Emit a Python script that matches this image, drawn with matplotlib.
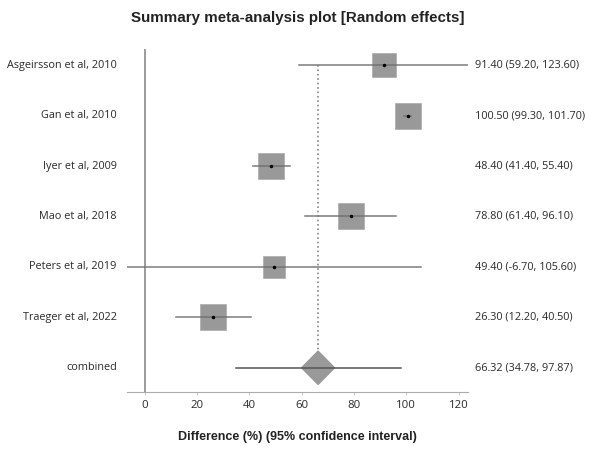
import matplotlib
matplotlib.use("Agg")
import matplotlib.pyplot as plt
from matplotlib.patches import Polygon

studies = ["Asgeirsson et al, 2010", "Gan et al, 2010", "Iyer et al, 2009",
           "Mao et al, 2018", "Peters et al, 2019", "Traeger et al, 2022"]
estimates = [91.40, 100.50, 48.40, 78.80, 49.40, 26.30]
lower = [59.20, 99.30, 41.40, 61.40, -6.70, 12.20]
upper = [123.60, 101.70, 55.40, 96.10, 105.60, 40.50]
weights = [0.92, 1.0, 1.0, 1.0, 0.81, 1.0]
combined_label = "combined"
combined_est = 66.32
combined_lo = 34.78
combined_hi = 97.87
xticks = [0, 20, 40, 60, 80, 100, 120]

W, H = 596, 449
fig = plt.figure(figsize=(W / 100, H / 100), dpi=100)
ax = fig.add_axes([127 / W, 1 - 392 / H, (468 - 127) / W, (392 - 49) / H])

n = len(studies)
ys = list(range(n + 1, 1, -1))
ycomb = 1
ax.set_xlim(-6.7, 123.6)
ax.set_ylim(0.52, n + 1.32)

linec = "#6e6e6e"
boxc = "#999999"
lab_font = "Open Sans"

ax.axvline(0, color="#8a8a8a", lw=1.2, zorder=1)
ax.plot([combined_est, combined_est], [ys[0], ycomb + 0.33], ls=":", color="#888888", lw=1.2, zorder=1)

for y, e, lo, hi, w in zip(ys, estimates, lower, upper, weights):
    ax.plot([e], [y], marker="s", ms=19.0 * w, color=boxc, mec="#aaaaaa", mew=0.5, zorder=2)
    ax.plot([lo, hi], [y, y], color=linec, lw=1.1, alpha=0.9, zorder=3)
    ax.plot([e], [y], marker="o", ms=1.5, color="black", zorder=4)

dw = 6.3
dh = 0.33
diamond = Polygon([[combined_est - dw, ycomb], [combined_est, ycomb + dh],
                   [combined_est + dw, ycomb], [combined_est, ycomb - dh]],
                  closed=True, color=boxc, zorder=3)
ax.add_patch(diamond)
ax.plot([combined_lo, combined_hi], [ycomb, ycomb], color="#555555", lw=1.1, zorder=4)

tr = ax.get_yaxis_transform()
for y, s in zip(ys + [ycomb], studies + [combined_label]):
    ax.text(-0.03, y, s, transform=tr, ha="right", va="center", fontsize=7.8,
            family=lab_font, color="#2a2a2a")
right_labels = [f"{e:.2f} ({lo:.2f}, {hi:.2f})" for e, lo, hi in zip(estimates, lower, upper)]
right_labels.append(f"{combined_est:.2f} ({combined_lo:.2f}, {combined_hi:.2f})")
for y, s in zip(ys + [ycomb], right_labels):
    ax.text(1.02, y, s, transform=tr, ha="left", va="center", fontsize=7.8,
            family=lab_font, color="#2a2a2a")

ax.set_yticks([])
for sp in ["left", "right", "top"]:
    ax.spines[sp].set_visible(False)
ax.spines["bottom"].set_color("#aaaaaa")
ax.set_xticks(xticks)
ax.set_xticklabels([str(t) for t in xticks], family=lab_font, fontsize=8.2, color="#2a2a2a")
ax.tick_params(axis="x", length=2, color="#cccccc", pad=4)
ax.set_xlabel("Difference (%) (95% confidence interval)", family="Liberation Sans",
              fontweight="bold", fontsize=9.0, color="#222222", labelpad=14)
fig.text(0.5, 1 - 18 / H, "Summary meta-analysis plot [Random effects]", ha="center", va="center",
         family="Liberation Sans", fontweight="bold", fontsize=10.9, color="#222222")

fig.savefig("out.png", dpi=100, facecolor="white")
